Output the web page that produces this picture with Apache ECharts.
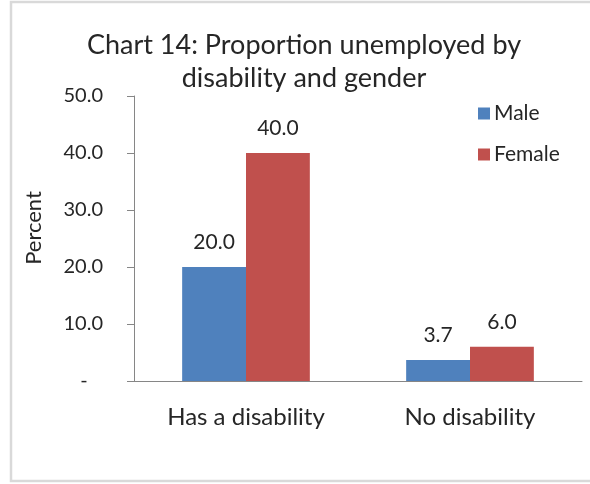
<!DOCTYPE html>
<html>
<head>
<meta charset="utf-8">
<script src="https://cdn.jsdelivr.net/npm/echarts@6/dist/echarts.min.js"></script>
<style>
html,body{margin:0;padding:0;background:#fff;}
#c{width:590px;height:484px;}
</style>
</head>
<body>
<div id="c"></div>
<script>
const categories = ['Has a disability', 'No disability'];
const maleValues = [20.0, 3.7];
const femaleValues = [40.0, 6.0];
const seriesNames = ['Male', 'Female'];
const yTicks = [0, 10, 20, 30, 40, 50];
const titleLines = ['Chart 14: Proportion unemployed by', 'disability and gender'];
const yAxisName = 'Percent';

const FONT = 'Lato, "Open Sans", sans-serif';
const TXT = '#262626';
const chart = echarts.init(document.getElementById('c'), null, {renderer: 'canvas'});
chart.setOption({
  animation: false,
  backgroundColor: '#fff',
  textStyle: {fontFamily: FONT},
  graphic: [
    {type: 'rect', shape: {x: 11, y: 2, width: 640, height: 479}, style: {fill: 'none', stroke: '#D9D9D9', lineWidth: 2.5}, silent: true},
    {type: 'text', x: 304, y: 45, style: {text: titleLines[0], fontFamily: FONT, fontSize: 27, fill: TXT, align: 'center', verticalAlign: 'middle'}},
    {type: 'text', x: 304, y: 78, style: {text: titleLines[1], fontFamily: FONT, fontSize: 27, fill: TXT, align: 'center', verticalAlign: 'middle'}},
    {type: 'text', x: 34, y: 228, rotation: Math.PI / 2, style: {text: yAxisName, fontFamily: FONT, fontSize: 22, fill: TXT, align: 'center', verticalAlign: 'middle'}}
  ],
  legend: {
    orient: 'vertical',
    left: 473, top: 98,
    itemWidth: 12, itemHeight: 12, itemGap: 20,
    icon: 'rect',
    textStyle: {fontFamily: FONT, fontSize: 21, color: TXT, padding: [0, 0, 0, -1]},
    data: seriesNames
  },
  grid: {left: 134, right: 8, top: 96, bottom: 103, containLabel: false},
  xAxis: {
    type: 'category',
    data: categories,
    axisLine: {lineStyle: {color: '#868686', width: 1}},
    axisTick: {show: false},
    axisLabel: {fontFamily: FONT, fontSize: 24, color: TXT, margin: 24}
  },
  yAxis: {
    type: 'value',
    min: yTicks[0], max: yTicks[yTicks.length - 1], interval: 10,
    axisLine: {show: true, lineStyle: {color: '#868686', width: 1}},
    axisTick: {show: true, length: 7, lineStyle: {color: '#868686'}},
    splitLine: {show: false},
    axisLabel: {
      fontFamily: FONT, fontSize: 20, color: TXT, margin: 31,
      formatter: v => v === 0 ? '-   ' : v.toFixed(1)
    }
  },
  series: [
    {
      name: seriesNames[0], type: 'bar', data: maleValues,
      barGap: '0%', barCategoryGap: '43%',
      itemStyle: {color: '#4F81BD'},
      label: {show: true, position: 'top', distance: 14, fontFamily: FONT, fontSize: 21, color: TXT, formatter: p => p.value.toFixed(1)}
    },
    {
      name: seriesNames[1], type: 'bar', data: femaleValues,
      itemStyle: {color: '#C0504D'},
      label: {show: true, position: 'top', distance: 14, fontFamily: FONT, fontSize: 21, color: TXT, formatter: p => p.value.toFixed(1)}
    }
  ]
});
</script>
</body>
</html>
